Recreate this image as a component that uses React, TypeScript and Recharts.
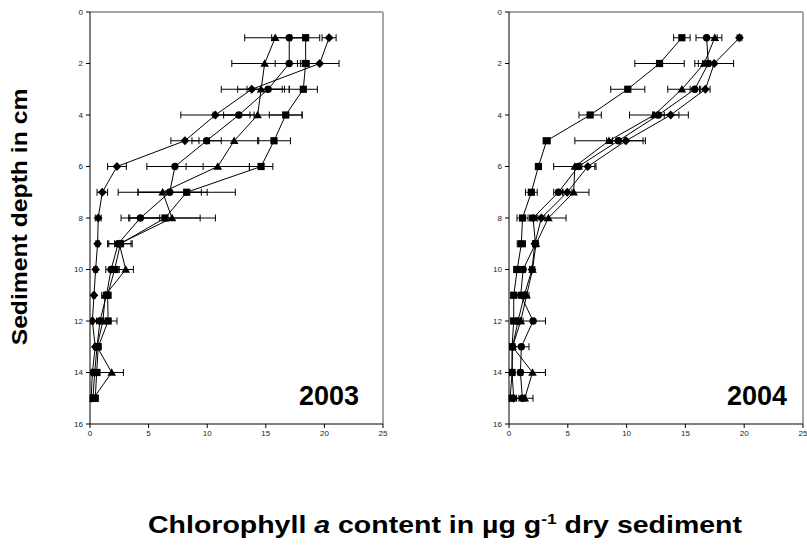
import { ScatterChart, Scatter, XAxis, YAxis, ErrorBar, ReferenceLine } from 'recharts';

const depths = [1, 2, 3, 4, 5, 6, 7, 8, 9, 10, 11, 12, 13, 14, 15];
const xTicks = [0, 5, 10, 15, 20, 25];
const yTicks = [0, 2, 4, 6, 8, 10, 12, 14, 16];

// 2003
const diamond03 = [20.4, 19.6, 13.8, 10.7, 8.1, 2.3, 1.05, 0.7, 0.65, 0.48, 0.34, 0.2, 0.45, 0.2, 0.1];
const diamond03Err = [0.6, 1.65, 2.6, 2.95, 1.2, 0.8, 0.45, 0.25, 0.15, 0.15, 0.1, 0.1, 0.1, 0.1, 0.1];
const circle03 = [17.0, 17.0, 15.2, 12.7, 9.95, 7.25, 6.8, 4.3, 2.4, 1.8, 1.4, 0.85, 0.6, 0.4, 0.25];
const circle03Err = [1.5, 1.2, 1.8, 1.3, 1.25, 2.4, 2.7, 1.65, 0.3, 0.45, 0.25, 0.3, 0.15, 0.15, 0.1];
const triangle03 = [15.8, 14.9, 14.6, 14.3, 12.3, 10.9, 6.2, 7.0, 2.5, 3.05, 1.3, 1.1, 0.6, 1.85, 0.3];
const triangle03Err = [2.6, 2.8, 2.0, 3.8, 2.1, 2.7, 3.8, 3.7, 1.0, 0.65, 0.3, 0.3, 0.2, 1.0, 0.2];
const square03 = [18.4, 18.4, 18.2, 16.7, 15.7, 14.6, 8.25, 6.4, 2.6, 2.1, 1.5, 1.55, 0.7, 0.57, 0.45];
const square03Err = [1.2, 0.3, 1.2, 1.4, 1.4, 1.0, 4.15, 3.0, 1.0, 0.4, 0.3, 0.75, 0.2, 0.2, 0.2];

// 2004
const square04 = [14.7, 12.8, 10.1, 6.9, 3.2, 2.5, 1.9, 1.15, 1.05, 0.7, 0.4, 0.4, 0.26, 0.26, 0.1];
const square04Err = [0.7, 2.1, 1.45, 0.95, 0.3, 0.2, 0.5, 0.47, 0.35, 0.3, 0.2, 0.2, 0.15, 0.1, 0.1];
const circle04 = [16.8, 16.95, 15.8, 12.7, 9.3, 5.9, 4.2, 2.05, 2.25, 1.2, 1.0, 2.05, 1.05, 0.97, 1.14];
const circle04Err = [0.9, 0.5, 0.4, 0.5, 0.5, 0.3, 0.4, 0.3, 0.2, 0.2, 0.2, 1.05, 0.65, 0.2, 0.3];
const triangle04 = [17.5, 16.6, 14.7, 12.35, 8.5, 5.6, 5.5, 3.35, 2.3, 2.0, 1.5, 1.0, 0.3, 2.0, 1.34];
const triangle04Err = [0.6, 0.5, 1.2, 2.1, 2.9, 1.8, 1.3, 1.5, 0.2, 0.2, 0.2, 0.2, 0.1, 1.1, 0.7];
const diamond04 = [19.6, 17.45, 16.7, 13.75, 9.95, 6.7, 4.95, 2.75, 2.2, 1.95, 1.3, 0.77, 0.3, 0.26, 0.4];
const diamond04Err = [0.2, 1.65, 0.4, 1.5, 1.65, 0.6, 0.4, 0.3, 0.2, 0.2, 0.2, 0.2, 0.1, 0.1, 0.1];

type Shape = 'diamond' | 'circle' | 'triangle' | 'square';

const build = (vals: number[], errs: number[]) =>
  depths.map((d, i) => ({ depth: d, x: vals[i], err: errs[i] }));

const series03: { shape: Shape; data: any[] }[] = [
  { shape: 'diamond', data: build(diamond03, diamond03Err) },
  { shape: 'circle', data: build(circle03, circle03Err) },
  { shape: 'triangle', data: build(triangle03, triangle03Err) },
  { shape: 'square', data: build(square03, square03Err) },
];

const series04: { shape: Shape; data: any[] }[] = [
  { shape: 'square', data: build(square04, square04Err) },
  { shape: 'circle', data: build(circle04, circle04Err) },
  { shape: 'triangle', data: build(triangle04, triangle04Err) },
  { shape: 'diamond', data: build(diamond04, diamond04Err) },
];

// marker drawn at the position recharts computes (cx, cy)
const marker = (kind: Shape) => (props: any) => {
  const { cx, cy } = props;
  if (cx == null || cy == null) return <g />;
  if (kind === 'circle') return <circle cx={cx} cy={cy} r={3.7} fill="#000" />;
  if (kind === 'square') return <rect x={cx - 3.6} y={cy - 3.6} width={7.2} height={7.2} fill="#000" />;
  if (kind === 'triangle')
    return <polygon points={`${cx},${cy - 4.2} ${cx + 4.3},${cy + 3.3} ${cx - 4.3},${cy + 3.3}`} fill="#000" />;
  return <polygon points={`${cx},${cy - 4.4} ${cx + 4.4},${cy} ${cx},${cy + 4.4} ${cx - 4.4},${cy}`} fill="#000" />;
};

const tickStyle = { fill: '#222', fontSize: 8, fontFamily: 'Arial, "Liberation Sans", sans-serif' };

function Panel({ series, width, right }: { series: { shape: Shape; data: any[] }[]; width: number; right: number }) {
  return (
    <ScatterChart width={width} height={460} margin={{ top: 12, right, bottom: 16, left: 0 }}>
      <XAxis
        type="number"
        dataKey="x"
        domain={[0, 25]}
        ticks={xTicks}
        height={20}
        tick={tickStyle}
        tickSize={4}
        tickMargin={2}
        stroke="#000"
        allowDataOverflow
      />
      <YAxis
        type="number"
        dataKey="depth"
        domain={[0, 16]}
        ticks={yTicks}
        reversed
        width={30}
        tick={tickStyle}
        tickSize={4}
        tickMargin={3}
        stroke="#000"
        allowDataOverflow
      />
      <ReferenceLine y={0} stroke="#a6a6a6" strokeWidth={2} />
      <ReferenceLine x={25} stroke="#a6a6a6" strokeWidth={2} />
      {series.map((s, i) => (
        <Scatter
          key={i}
          data={s.data}
          shape={marker(s.shape)}
          fill="#000"
          line={{ stroke: '#000', strokeWidth: 1 }}
          isAnimationActive={false}
        >
          <ErrorBar dataKey="err" direction="x" width={3.5} stroke="#000" strokeWidth={1} isAnimationActive={false} />
        </Scatter>
      ))}
    </ScatterChart>
  );
}

const font = 'Arial, "Liberation Sans", sans-serif';

export default function App() {
  return (
    <div style={{ position: 'absolute', left: 0, top: 0, width: 807, height: 546, background: '#fff', overflow: 'hidden' }}>
      <div style={{ position: 'absolute', left: 60, top: 0 }}>
        <Panel series={series03} width={330} right={7} />
      </div>
      <div style={{ position: 'absolute', left: 479, top: 0 }}>
        <Panel series={series04} width={328} right={4} />
      </div>
      <svg width={807} height={546} style={{ position: 'absolute', left: 0, top: 0, pointerEvents: 'none' }}>
        <text x={299} y={405} fontFamily={font} fontWeight="bold" fontSize={27} fill="#000">2003</text>
        <text x={727} y={405} fontFamily={font} fontWeight="bold" fontSize={27} fill="#000">2004</text>
        <text
          transform="translate(27,217) rotate(-90) scale(1.075,1)"
          textAnchor="middle"
          fontFamily={font}
          fontWeight="bold"
          fontSize={23}
          fill="#000"
        >
          Sediment depth in cm
        </text>
        <text
          transform="translate(445,533) scale(1.24,1)"
          textAnchor="middle"
          fontFamily={font}
          fontWeight="bold"
          fontSize={23}
          fill="#000"
        >
          Chlorophyll <tspan fontStyle="italic">a</tspan> content in µg g<tspan fontSize={14} dy={-9}>-1</tspan>
          <tspan dy={9}> dry sediment</tspan>
        </text>
      </svg>
    </div>
  );
}
